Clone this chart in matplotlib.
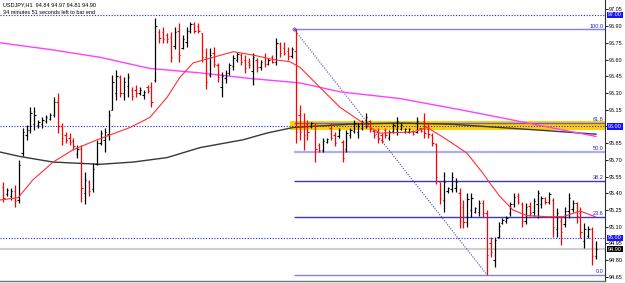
import matplotlib
matplotlib.use('Agg')
import matplotlib.pyplot as plt
import matplotlib.transforms as mtrans
from matplotlib.patches import Rectangle
import numpy as np

plt.rcParams['font.family'] = ['Liberation Sans', 'DejaVu Sans']

symbol_line = "USDJPY,H1  94.84 94.97 94.81 94.90"
timer_line = "34 minutes 51 seconds left to bar end"

opens = [95.46, 95.39, 95.38, 95.42, 95.34, 95.76, 95.92, 95.97, 96.02, 96.01,
         96.02, 96.05, 96.07, 96.10, 96.22, 96.00, 95.92, 95.90, 95.87, 95.75,
         95.80, 95.40, 95.50, 95.44, 95.66, 95.85, 95.88, 95.93, 96.15, 96.30,
         96.44, 96.30, 96.36, 96.33, 96.33, 96.30, 96.28, 96.35, 96.35, 96.42,
         96.85, 96.85, 96.82, 96.80, 96.72, 96.86, 96.70, 96.76, 96.86, 96.92,
         96.90, 96.84, 96.62, 96.46, 96.66, 96.55, 96.35, 96.43, 96.48, 96.54,
         96.60, 96.64, 96.60, 96.58, 96.50, 96.60, 96.53, 96.62, 96.56, 96.62,
         96.58, 96.74, 96.70, 96.68, 96.63, 96.68, 96.10, 96.00, 96.02, 96.00,
         96.01, 95.83, 95.79, 95.86, 95.99, 95.92, 95.91, 95.86, 95.80, 95.92,
         95.96, 95.95, 95.99, 96.02, 96.05, 95.96, 95.95, 95.92, 95.97, 95.90,
         95.96, 95.98, 95.98, 95.95, 95.95, 95.96, 95.95, 95.99, 96.05, 95.98,
         95.92, 95.84, 95.50, 95.34, 95.42, 95.44, 95.45, 95.40, 95.28, 95.14,
         95.25, 95.23, 95.23, 95.31, 95.22, 94.95, 94.80, 95.01, 95.13, 95.15,
         95.22, 95.30, 95.38, 95.30, 95.15, 95.29, 95.23, 95.30, 95.30, 95.36,
         95.32, 95.34, 95.08, 95.15, 95.12, 95.24, 95.26, 95.31, 95.22, 94.97,
         95.02, 95.08, 94.84]
highs = [95.50, 95.45, 95.45, 95.47, 95.70, 95.99, 96.01, 96.17, 96.17, 96.06,
         96.08, 96.10, 96.12, 96.26, 96.30, 96.03, 95.95, 95.94, 95.90, 95.83,
         95.83, 95.59, 95.52, 95.67, 95.88, 95.97, 95.99, 96.15, 96.46, 96.51,
         96.46, 96.44, 96.48, 96.35, 96.37, 96.35, 96.33, 96.37, 96.40, 96.97,
         96.87, 96.89, 96.84, 96.85, 96.89, 96.93, 96.82, 96.89, 96.94, 96.94,
         96.93, 96.84, 96.70, 96.70, 96.71, 96.57, 96.49, 96.51, 96.57, 96.64,
         96.67, 96.66, 96.64, 96.61, 96.66, 96.61, 96.60, 96.66, 96.61, 96.64,
         96.79, 96.76, 96.76, 96.71, 96.71, 96.87, 96.19, 96.12, 96.06, 96.04,
         96.03, 95.85, 95.90, 95.90, 96.03, 95.95, 95.99, 95.88, 95.97, 95.99,
         96.06, 96.03, 96.06, 96.12, 96.06, 95.97, 95.99, 95.94, 95.99, 95.97,
         96.03, 96.08, 96.03, 95.99, 95.99, 95.97, 96.08, 95.99, 96.12, 96.03,
         95.94, 95.85, 95.50, 95.59, 95.46, 95.59, 95.54, 95.45, 95.34, 95.40,
         95.40, 95.28, 95.34, 95.34, 95.25, 95.01, 95.01, 95.14, 95.18, 95.20,
         95.32, 95.40, 95.40, 95.32, 95.31, 95.32, 95.36, 95.43, 95.38, 95.37,
         95.41, 95.36, 95.27, 95.19, 95.28, 95.40, 95.34, 95.32, 95.28, 95.13,
         95.11, 95.10, 94.97]
lows = [95.32, 95.38, 95.34, 95.28, 95.31, 95.73, 95.88, 95.94, 95.97, 95.99,
        95.99, 96.03, 96.06, 96.08, 95.94, 95.83, 95.85, 95.83, 95.79, 95.72,
        95.32, 95.30, 95.38, 95.41, 95.65, 95.83, 95.77, 95.88, 96.15, 96.24,
        96.26, 96.24, 96.26, 96.24, 96.26, 96.28, 96.25, 96.30, 96.17, 96.40,
        96.75, 96.75, 96.75, 96.58, 96.69, 96.58, 96.69, 96.71, 96.84, 96.84,
        96.84, 96.58, 96.34, 96.44, 96.53, 96.40, 96.26, 96.39, 96.46, 96.51,
        96.58, 96.55, 96.48, 96.52, 96.37, 96.49, 96.51, 96.53, 96.55, 96.57,
        96.55, 96.62, 96.64, 96.60, 96.61, 95.85, 95.88, 95.79, 95.88, 95.99,
        95.68, 95.77, 95.77, 95.85, 95.88, 95.82, 95.90, 95.68, 95.77, 95.90,
        95.94, 95.90, 95.97, 95.99, 95.95, 95.90, 95.85, 95.85, 95.90, 95.88,
        95.94, 95.92, 95.97, 95.94, 95.94, 95.92, 95.94, 95.95, 95.90, 95.90,
        95.82, 95.48, 95.30, 95.23, 95.40, 95.41, 95.41, 95.09, 95.09, 95.10,
        95.19, 95.22, 95.20, 95.19, 94.67, 94.83, 94.74, 95.00, 95.12, 95.13,
        95.20, 95.28, 95.30, 95.10, 95.12, 95.20, 95.20, 95.18, 95.27, 95.30,
        95.30, 95.01, 95.01, 94.94, 95.10, 95.18, 95.23, 95.13, 95.00, 94.91,
        95.00, 94.76, 94.81]
closes = [95.36, 95.43, 95.42, 95.33, 95.65, 95.95, 95.97, 96.12, 96.10, 96.04,
          96.06, 96.08, 96.10, 96.22, 96.00, 95.90, 95.88, 95.86, 95.82, 95.80,
          95.45, 95.52, 95.42, 95.62, 95.85, 95.94, 95.95, 96.10, 96.40, 96.45,
          96.30, 96.40, 96.44, 96.27, 96.30, 96.33, 96.31, 96.32, 96.22, 96.90,
          96.79, 96.78, 96.78, 96.62, 96.85, 96.64, 96.78, 96.86, 96.92, 96.86,
          96.86, 96.62, 96.40, 96.64, 96.56, 96.44, 96.45, 96.48, 96.55, 96.61,
          96.65, 96.58, 96.52, 96.55, 96.62, 96.53, 96.58, 96.56, 96.60, 96.58,
          96.75, 96.66, 96.66, 96.63, 96.69, 95.95, 95.95, 95.92, 95.95, 96.03,
          95.80, 95.79, 95.87, 95.89, 95.90, 95.85, 95.97, 95.72, 95.94, 95.97,
          96.03, 96.00, 96.04, 96.08, 95.98, 95.92, 95.89, 95.87, 95.92, 95.95,
          96.01, 96.05, 96.01, 95.98, 95.98, 95.93, 96.05, 95.96, 95.94, 95.93,
          95.85, 95.55, 95.36, 95.50, 95.45, 95.55, 95.50, 95.15, 95.14, 95.35,
          95.36, 95.27, 95.31, 95.22, 94.85, 94.87, 94.98, 95.11, 95.16, 95.18,
          95.30, 95.37, 95.32, 95.15, 95.28, 95.22, 95.33, 95.40, 95.36, 95.32,
          95.39, 95.10, 95.22, 95.05, 95.24, 95.36, 95.31, 95.20, 95.05, 95.08,
          95.08, 94.84, 94.90]

# moving averages (bar index, price)
fast_ma_idx = [-0.8, 3.8, 7.6, 12.8, 17.9, 24.1, 32.5, 37.6, 42.0, 45.3, 48.7,
               53.8, 59.0, 64.1, 69.2, 73.5, 76.1, 81.2, 86.4, 92.3, 96.6,
               105.1, 108.7, 112.0, 113.8, 118.9, 123.0, 124.8, 127.4, 130.7,
               134.3, 139.4, 143.5, 147.9, 151.8]
fast_ma_val = [95.34, 95.36, 95.52, 95.68, 95.79, 95.88, 95.99, 96.08, 96.26, 96.44, 96.57,
               96.62, 96.67, 96.64, 96.60, 96.58, 96.53, 96.35, 96.17, 96.03, 95.94,
               95.95, 95.99, 95.92, 95.88, 95.76, 95.58, 95.49, 95.37, 95.25,
               95.20, 95.19, 95.19, 95.24, 95.19]
slow_ma_idx = [-0.8, 12.0, 24.8, 37.6, 50.5, 63.3, 76.1, 86.4, 101.7, 117.1, 127.4, 140.2, 152.0]
slow_ma_val = [96.75, 96.69, 96.62, 96.52, 96.48, 96.43, 96.39, 96.31, 96.25, 96.15, 96.08, 95.99, 95.91]
long_ma_idx = [-0.8, 4.3, 12.8, 24.8, 33.3, 42.0, 50.5, 61.5, 67.6, 74.3, 88.9, 101.7, 114.6, 127.4, 140.2, 152.0]
long_ma_val = [95.77, 95.73, 95.68, 95.66, 95.68, 95.72, 95.81, 95.88, 95.94, 95.99, 96.02, 96.03, 96.02, 95.99, 95.96, 95.93]

price_ticks = [94.65, 94.80, 94.95, 95.10, 95.25, 95.40, 95.55, 95.70, 95.85,
               96.00, 96.15, 96.30, 96.45, 96.60, 96.75, 96.90, 97.05]
tick_labels = ["94.65", "94.80", "94.95", "95.10", "95.25", "95.40", "95.55", "95.70", "95.85",
               "96.00", "96.15", "96.30", "96.45", "96.60", "96.75", "96.90", "97.05"]

fib_labels = ["100.0", "61.8", "50.0", "38.2", "23.6", "0.0"]
fib_prices = [96.87, 96.03, 95.77, 95.51, 95.19, 94.67]
fib_colors = ["#8080e8", "#6060d8", "#aab0f2", "#3838d0", "#3838d0", "#8080e8"]
fib_high_bar, fib_low_bar = 75, 124
fib_high, fib_low = 96.87, 94.67

round_levels = [97.00, 96.00, 95.00]
round_labels = ["97.00", "96.00", "95.00"]
bid_price = 94.90
bid_label = "94.90"

zone_start_bar = 73.5
zone_top, zone_bottom = 96.05, 95.97

# ---------------------------------------------------------------
W, H = 625, 283
fig = plt.figure(figsize=(W / 100, H / 100), dpi=100)
fig.patch.set_facecolor('white')
ax = fig.add_axes([0, 2 / H, 605 / W, 281 / H])
xmin, xmax = -0.82, 154.3
ax.set_xlim(xmin, xmax)
ax.set_ylim(94.613, 97.134)

for s in ['top', 'left']:
    ax.spines[s].set_visible(False)
ax.spines['bottom'].set_color('#707070')
ax.spines['bottom'].set_linewidth(1.0)
ax.spines['right'].set_color('#303030')
ax.spines['right'].set_linewidth(0.8)

ax.set_xticks([])
ax.yaxis.tick_right()
ax.set_yticks(price_ticks)
# the tick label hidden behind a highlighted price box is left blank
shown_labels = ["" if lab in round_labels else lab for lab in tick_labels]
ax.set_yticklabels(shown_labels, fontsize=4.0)
ax.tick_params(axis='y', length=2.0, width=0.6, pad=1.0, colors='black')

# zone rectangle
ax.add_patch(Rectangle((zone_start_bar, zone_bottom), xmax - zone_start_bar + 5,
                       zone_top - zone_bottom, facecolor='#ffd000', edgecolor='none', zorder=1))

# bid line
ax.axhline(bid_price, color='#cfcfcf', lw=1.5, zorder=1)
# round level dotted lines
for p in round_levels:
    ax.axhline(p, color='#2020ff', ls=(0, (1, 1.5)), lw=0.8, zorder=2)

# fibonacci levels
for lab, p, c in zip(fib_labels, fib_prices, fib_colors):
    lw = 1.6 if lab == "50.0" else 1.0
    ax.hlines(p, fib_high_bar - 0.4, xmax + 5, colors=c, lw=lw, zorder=2)
    ax.text(xmax - 0.4, p + 0.008, lab, ha='right', va='bottom', fontsize=4.0,
            color='#2828c0', zorder=6)
ax.plot([fib_high_bar - 0.4, fib_low_bar], [fib_high, fib_low], color='#4848b8',
        ls=(0, (1, 1.3)), lw=0.8, zorder=2)
ax.plot([fib_high_bar - 0.4], [fib_high], marker='o', ms=2.2, mfc='none', mec='#4848b8',
        mew=0.6, zorder=2)

# moving averages
ax.plot(long_ma_idx, long_ma_val, color='#383838', lw=1.0, zorder=3)
ax.plot(slow_ma_idx, slow_ma_val, color='#ff40ff', lw=1.0, zorder=3)

# OHLC bars
idx = np.arange(len(opens))
o = np.array(opens); h = np.array(highs); l = np.array(lows); c = np.array(closes)
cols = np.where(c >= o, '#000000', '#ff0000')
ax.vlines(idx, l, h, colors=cols, lw=0.9, zorder=4)
ax.hlines(o, idx - 0.35, idx, colors=cols, lw=0.8, zorder=4)
ax.hlines(c, idx, idx + 0.35, colors=cols, lw=0.8, zorder=4)

ax.plot(fast_ma_idx, fast_ma_val, color='#ff3030', lw=0.8, zorder=5)

# right-side highlighted price labels
trans = mtrans.blended_transform_factory(ax.transAxes, ax.transData)
for p, lab in zip(round_levels, round_labels):
    ax.text(1.005, p, lab, transform=trans, fontsize=4.0, color='white', ha='left',
            va='center', clip_on=False, zorder=10,
            bbox=dict(boxstyle='square,pad=0.15', fc='#1414ff', ec='none'))
ax.text(1.005, bid_price, bid_label, transform=trans, fontsize=4.0, color='white', ha='left',
        va='center', clip_on=False, zorder=10,
        bbox=dict(boxstyle='square,pad=0.15', fc='#000000', ec='none'))

fig.text(3 / W, 1 - 5 / H, symbol_line, fontsize=4.0, ha='left', va='center', color='black')
fig.text(3 / W, 1 - 12 / H, timer_line, fontsize=4.0, ha='left', va='center', color='black')

fig.savefig('out.png', dpi=100)
